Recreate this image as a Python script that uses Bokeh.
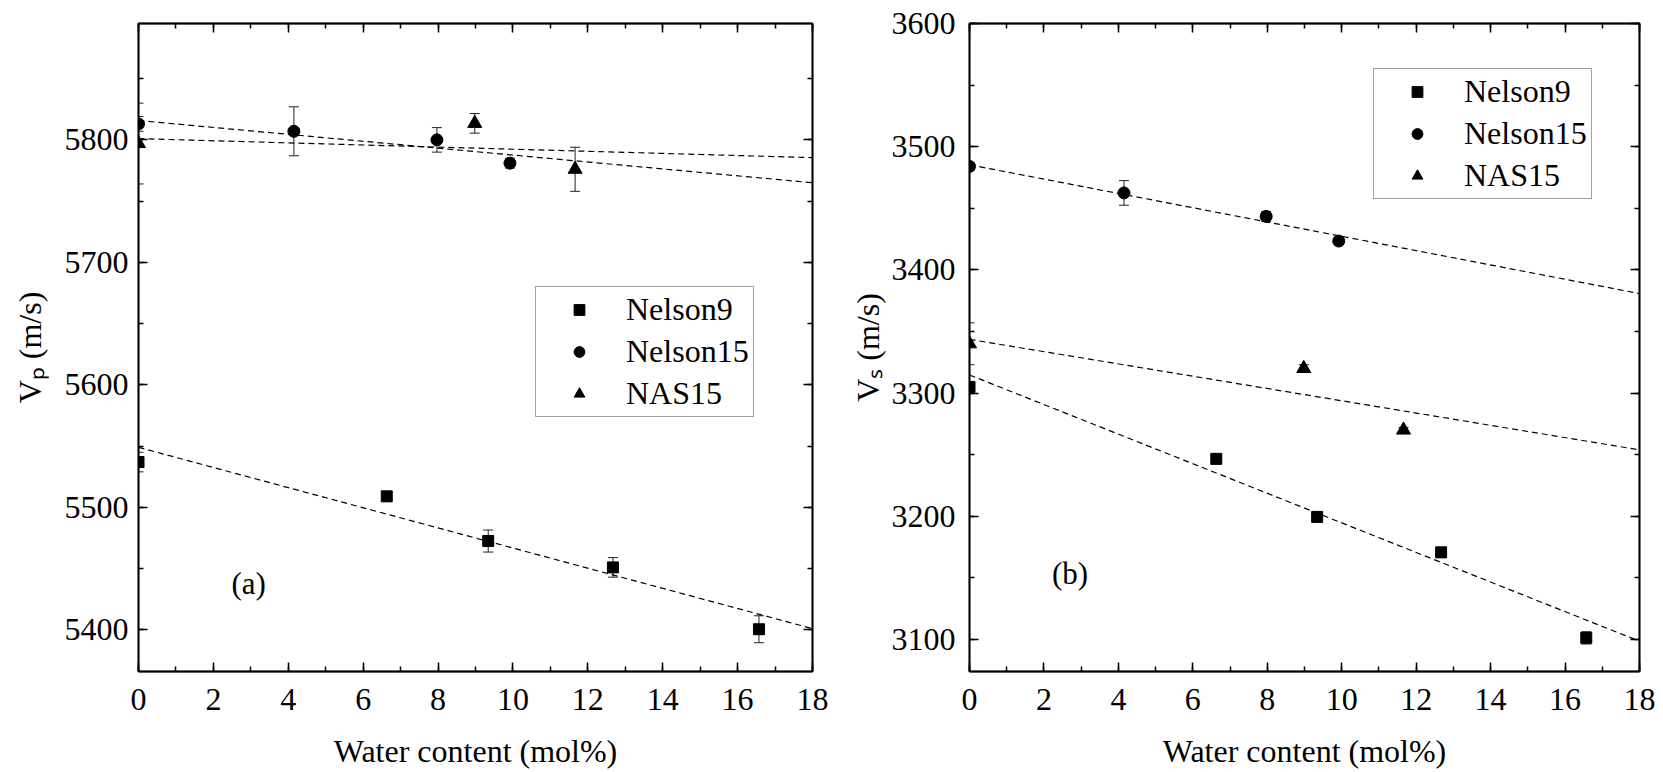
from bokeh.plotting import figure
from bokeh.models import (Range1d, SingleIntervalTicker, LinearAxis, CustomJSTickFormatter,
                          ColumnDataSource, Whisker, TeeHead, Legend, LegendItem, Label)
from bokeh.layouts import row
from bokeh.embed import file_html
from bokeh.resources import INLINE

# ---------------- data ----------------
series_names = ["Nelson9", "Nelson15", "NAS15"]

x_n9 = [0, 6.63, 9.34, 12.67, 16.57]
x_n15 = [0, 4.15, 7.97, 9.92]
x_nas = [0, 8.98, 11.66]

# panel (a): Vp (m/s)
vp_n9 = [5537, 5509, 5472.5, 5451, 5400.5]
vp_n9_err = [8, 3, 9, 8, 11]
vp_n15 = [5813, 5807, 5800, 5781]
vp_n15_err = [6, 20, 10, 4]
vp_nas = [5797, 5813.5, 5776]
vp_nas_err = [33, 8, 18]

# panel (b): Vs (m/s)
vs_n9 = [3305, 3246.6, 3199.5, 3170.7, 3101.3]
vs_n9_err = [4, 3, 3, 4, 5]
vs_n15 = [3484, 3462.5, 3443.4, 3423.4]
vs_n15_err = [3, 10, 4, 3]
vs_nas = [3340, 3320, 3270]
vs_nas_err = [17, 3, 2]

# linear fits (end values)
fit_x = [0, 18]
vp_n9_fit = [5549, 5401]
vp_n15_fit = [5815.8, 5765]
vp_nas_fit = [5801, 5785.5]
vs_n9_fit = [3314.7, 3098.6]
vs_n15_fit = [3485.3, 3380.8]
vs_nas_fit = [3343.6, 3253.9]

x_title = "Water content (mol%)"
y_title_a = "V\u209a (m/s)"
y_title_b = "V\u209b (m/s)"
FONT = "Liberation Serif"
BLACK = "black"


def blank():
    return CustomJSTickFormatter(code="return ''")


def make_panel(width, yr, min_left, min_right, ystand, ytitle, ytitle_stand, data, fits,
               legend_loc, tag, tag_pos):
    p = figure(width=width, height=771, x_range=Range1d(0, 18), y_range=Range1d(*yr),
               output_backend="svg", toolbar_location=None,
               min_border_left=min_left, min_border_right=min_right,
               min_border_top=23, min_border_bottom=99,
               background_fill_color="white", border_fill_color="white")
    p.grid.visible = False
    p.outline_line_color = BLACK
    p.outline_line_width = 1.5

    bottom = p.below[0]
    left = p.left[0]
    xt = SingleIntervalTicker(interval=2, num_minor_ticks=2)
    yt = SingleIntervalTicker(interval=100, num_minor_ticks=2)
    bottom.ticker = xt
    left.ticker = yt
    top = LinearAxis(ticker=xt, formatter=blank())
    right = LinearAxis(ticker=yt, formatter=blank())
    p.add_layout(top, "above")
    p.add_layout(right, "right")
    for ax in [bottom, left, top, right]:
        ax.major_tick_in = 9
        ax.major_tick_out = 0
        ax.minor_tick_in = 5
        ax.minor_tick_out = 0
        ax.axis_line_width = 1.8
        ax.axis_line_color = BLACK
        ax.major_tick_line_width = 1.5
        ax.minor_tick_line_width = 1.5
        ax.major_tick_line_color = BLACK
        ax.minor_tick_line_color = BLACK
        ax.major_label_text_font = FONT
        ax.major_label_text_font_size = "32px"
        ax.major_label_text_color = BLACK
        ax.axis_label_text_font = FONT
        ax.axis_label_text_font_size = "32px"
        ax.axis_label_text_font_style = "normal"
        ax.axis_label_text_color = BLACK
    bottom.major_label_standoff = 17
    left.major_label_standoff = ystand
    bottom.axis_label = x_title
    bottom.axis_label_standoff = 20
    left.axis_label = ytitle
    left.axis_label_standoff = ytitle_stand

    # fit lines
    for fy in fits:
        p.line(fit_x, fy, line_dash="6 4", line_color=BLACK, line_width=1.2)

    renderers = []
    for (xs, ys, es, marker, size) in data:
        src = ColumnDataSource(dict(x=xs, y=ys,
                                    upper=[a + b for a, b in zip(ys, es)],
                                    lower=[a - b for a, b in zip(ys, es)]))
        w = Whisker(source=src, base="x", upper="upper", lower="lower",
                    line_color="#222222", line_width=1,
                    upper_head=TeeHead(size=10, line_color="#222222", line_width=1),
                    lower_head=TeeHead(size=10, line_color="#222222", line_width=1))
        p.add_layout(w)
        r = p.scatter("x", "y", source=src, marker=marker, size=size,
                      fill_color=BLACK, line_color=BLACK)
        renderers.append(r)

    legend = Legend(items=[LegendItem(label=n, renderers=[r]) for n, r in zip(series_names, renderers)],
                    location=legend_loc, label_text_font=FONT, label_text_font_size="32px",
                    label_text_color=BLACK,
                    glyph_width=78, glyph_height=27, label_height=36, label_standoff=8,
                    padding=4, spacing=5, margin=0, border_line_color="#444444",
                    border_line_width=1, background_fill_color="white")
    p.add_layout(legend)

    p.add_layout(Label(x=tag_pos[0], y=tag_pos[1], text=tag, text_align="center",
                       text_baseline="middle", text_font=FONT, text_font_size="31px",
                       text_color=BLACK))
    return p


p1 = make_panel(
    838, (5366, 5895), 138, 26, 10, y_title_a, 14,
    [(x_n9, vp_n9, vp_n9_err, "square", 11),
     (x_n15, vp_n15, vp_n15_err, "circle", 12),
     (x_nas, vp_nas, vp_nas_err, "triangle", 14)],
    [vp_n9_fit, vp_n15_fit, vp_nas_fit],
    (397, 254), "(a)", (2.94, 5438))

p2 = make_panel(
    824, (3074, 3600), 131, 23, 14, y_title_b, 3,
    [(x_n9, vs_n9, vs_n9_err, "square", 11),
     (x_n15, vs_n15, vs_n15_err, "circle", 12),
     (x_nas, vs_nas, vs_nas_err, "triangle", 14)],
    [vs_n9_fit, vs_n15_fit, vs_nas_fit],
    (404, 472), "(b)", (2.70, 3153.5))

layout = row(p1, p2)
open("out.html", "w").write(file_html(layout, INLINE))
